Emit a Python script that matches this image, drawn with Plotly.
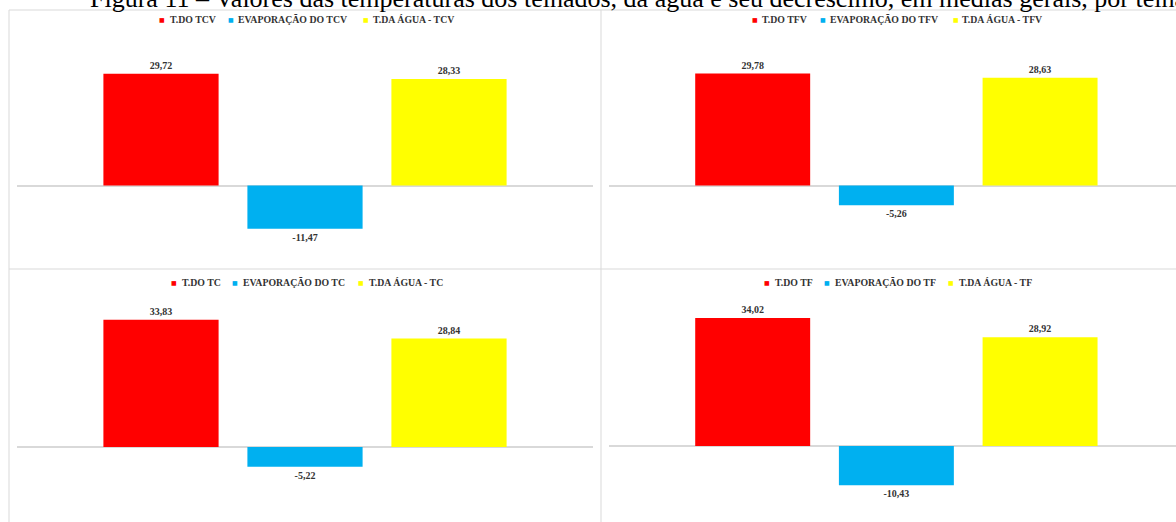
import plotly.graph_objects as go

# ---------------- data ----------------
title_text = ("Figura 11 – Valores das temperaturas dos telhados, da água e seu "
              "decréscimo, em médias gerais, por telhado")
roofs = ["TCV", "TFV", "TC", "TF"]
t_telhado = [29.72, 29.78, 33.83, 34.02]
evaporacao = [-11.47, -5.26, -5.22, -10.43]
t_agua = [28.33, 28.63, 28.84, 28.92]
series_prefix = ["T.DO ", "EVAPORAÇÃO DO ", "T.DA ÁGUA - "]
series_colors = ["#FF0000", "#00B0F0", "#FFFF00"]

# ---------------- layout geometry (pixels) ----------------
W, H = 1176, 522
SCALE = 3.76  # px per degree
panels = [
    dict(x0=17, x1=593, xr=[-1, 3], top=40, bot=262, zero=185.5),
    dict(x0=609, x1=1176, xr=[-1, 2.946], top=40, bot=262, zero=185.5),
    dict(x0=17, x1=593, xr=[-1, 3], top=300, bot=522, zero=447),
    dict(x0=609, x1=1176, xr=[-1, 2.946], top=300, bot=522, zero=446),
]
legend_pos = [
    [(162, 168), (231, 236), (366, 371)],
    [(755, 760), (823, 828), (956, 960)],
    [(174, 180), (235, 241), (361, 367)],
    [(767, 773), (827, 833), (951, 957)],
]
legend_y = [20, 20, 282, 282]

FONT = "Liberation Serif"
LABEL_COLOR = "#333333"
GRID = "#D9D9D9"


def px(x):
    return x / W


def py(y):
    return 1 - y / H


fig = go.Figure()
annotations = []
shapes = []

for p, roof in enumerate(roofs):
    g = panels[p]
    values = [t_telhado[p], evaporacao[p], t_agua[p]]
    xa = "x" if p == 0 else f"x{p+1}"
    ya = "y" if p == 0 else f"y{p+1}"
    for i, v in enumerate(values):
        fig.add_trace(go.Bar(
            x=[i], y=[v], width=0.8,
            marker=dict(color=series_colors[i], line=dict(width=0)),
            text=[v], texttemplate="<b>%{y:.2f}</b>", textposition="outside",
            textfont=dict(family=FONT, size=10, color=LABEL_COLOR),
            cliponaxis=False, showlegend=False, hoverinfo="skip",
            xaxis=xa, yaxis=ya,
        ))
    k = "" if p == 0 else str(p + 1)
    fig.update_layout(**{
        f"xaxis{k}": dict(domain=[px(g["x0"]), px(g["x1"])], range=g["xr"],
                          visible=False, fixedrange=True),
        f"yaxis{k}": dict(domain=[py(g["bot"]), py(g["top"])],
                          range=[-(g["bot"] - g["zero"]) / SCALE,
                                 (g["zero"] - g["top"]) / SCALE],
                          showgrid=False, showticklabels=False, ticks="",
                          showline=False, zeroline=True, zerolinecolor=GRID,
                          zerolinewidth=1.5, fixedrange=True),
    })
    # legend
    for i in range(3):
        mx, tx = legend_pos[p][i]
        annotations.append(dict(
            x=px(mx), y=py(legend_y[p]), xref="paper", yref="paper",
            xanchor="center", yanchor="middle", showarrow=False,
            text="■", font=dict(family="DejaVu Sans", size=6, color=series_colors[i])))
        annotations.append(dict(
            x=px(tx), y=py(legend_y[p]), xref="paper", yref="paper",
            xanchor="left", yanchor="middle", showarrow=False,
            text="<b>" + series_prefix[i] + roof + "</b>",
            font=dict(family=FONT, size=9.8, color=LABEL_COLOR)))

# title (cut off at top of picture, as in the source scan)
annotations.append(dict(
    x=px(88), y=py(15), xref="paper", yref="paper", xanchor="left", yanchor="bottom",
    showarrow=False, text=title_text, font=dict(family=FONT, size=26, color="#000000")))

# panel borders
for (x0, y0, x1, y1) in [(9, 10, W, 10), (9, 269, W, 269), (9, 10, 9, H), (601, 10, 601, H)]:
    shapes.append(dict(type="line", xref="paper", yref="paper",
                       x0=px(x0), y0=py(y0), x1=px(x1), y1=py(y1),
                       line=dict(color=GRID, width=1)))

fig.update_layout(
    width=W, height=H, margin=dict(l=0, r=0, t=0, b=0),
    paper_bgcolor="white", plot_bgcolor="white",
    barmode="overlay", separators=",.",
    annotations=annotations, shapes=shapes, showlegend=False,
)

fig.write_html("out.html", config={"displayModeBar": False})
